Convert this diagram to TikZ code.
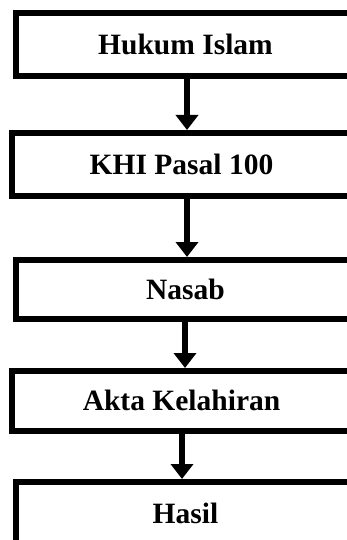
\documentclass[tikz,border=0pt]{standalone}
\usepackage{fontspec}
\setmainfont{Liberation Serif}
\usepackage{tikz}
\usetikzlibrary{positioning,arrows.meta}

\begin{document}
\begin{tikzpicture}[
  font=\fontsize{29.5}{33}\selectfont\bfseries,
  stagebox/.style={draw, line width=6pt, align=center, inner sep=0pt, minimum width=339pt},
  arr/.style={-{Triangle[length=15pt, width=22pt]}, line width=6.5pt}
]
\useasboundingbox (0,0) rectangle (347pt,-540pt);
\clip (0,0) rectangle (347pt,-540pt);
\node[stagebox, minimum height=63pt] (hukum) at (185.5pt,-44.5pt) {Hukum Islam};
\node[stagebox, minimum height=63pt, below=51pt of hukum, xshift=-4pt] (khi) {KHI Pasal 100};
\node[stagebox, minimum height=59pt, below=58pt of khi, xshift=4pt] (nasab) {Nasab};
\node[stagebox, minimum height=59.5pt, below=46pt of nasab, xshift=-4pt] (akta) {Akta Kelahiran};
\node[stagebox, minimum height=63pt, below=45.5pt of akta, xshift=4pt] (hasil) {Hasil};
\draw[arr] ([xshift=1.5pt]hukum.south) -- ([xshift=1.5pt]hukum.south |- khi.north);
\draw[arr] ([xshift=5.5pt]khi.south) -- ([xshift=5.5pt]khi.south |- nasab.north);
\draw[arr] ([xshift=-0.5pt]nasab.south) -- ([xshift=-0.5pt]nasab.south |- akta.north);
\draw[arr] ([xshift=0.5pt]akta.south) -- ([xshift=0.5pt]akta.south |- hasil.north);
\end{tikzpicture}
\end{document}
